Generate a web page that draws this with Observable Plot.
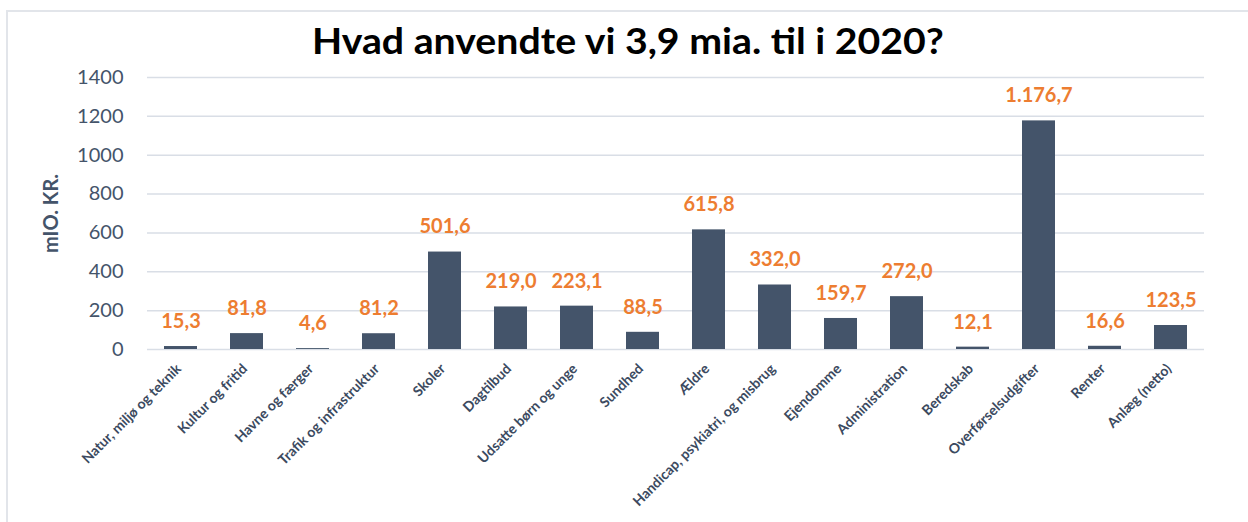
<!DOCTYPE html>
<html><head><meta charset="utf-8">
<script src="https://cdn.jsdelivr.net/npm/d3@7"></script>
<script src="https://cdn.jsdelivr.net/npm/@observablehq/plot@0.6"></script>
<style>
body{margin:0;background:#fff;width:1248px;height:522px;overflow:hidden;position:relative;font-family:Lato,sans-serif}
#frame{position:absolute;left:6px;top:10px;width:1300px;height:600px;border-left:2px solid #e2e5ea;border-top:2px solid #e2e5ea}
#titlebox{position:absolute;left:0;width:1256px;top:22px;text-align:center}
#title{display:inline-block;font-weight:700;font-size:36px;line-height:36px;color:#000;transform-origin:50% 50%}
#chart{position:absolute;left:0;top:60px}
</style></head><body>
<div id="frame"></div>
<div id="titlebox"><span id="title"></span></div>
<div id="chart"></div>
<script>
const title = "Hvad anvendte vi 3,9 mia. til i 2020?";
const yLabel = "mIO. KR.";
const categories = [
  "Natur, miljø og teknik", "Kultur og fritid", "Havne og færger", "Trafik og infrastruktur",
  "Skoler", "Dagtilbud", "Udsatte børn og unge", "Sundhed", "Ældre",
  "Handicap, psykiatri, og misbrug", "Ejendomme", "Administration", "Beredskab",
  "Overførselsudgifter", "Renter", "Anlæg (netto)"
];
const values = [15.3, 81.8, 4.6, 81.2, 501.6, 219.0, 223.1, 88.5, 615.8, 332.0, 159.7, 272.0, 12.1, 1176.7, 16.6, 123.5];
const yTicks = [0, 200, 400, 600, 800, 1000, 1200, 1400];

const t = document.getElementById("title");
t.textContent = title;
const w = t.getBoundingClientRect().width;
t.style.transform = `scaleX(${632 / w})`;

const data = categories.map((c, i) => ({category: c, value: values[i]}));
const fmt = d3.formatLocale({decimal: ",", thousands: ".", grouping: [3], currency: ["", ""]}).format(",.1f");

const chart = Plot.plot({
  width: 1248, height: 462,
  marginTop: 17, marginBottom: 173, marginLeft: 147, marginRight: 44,
  style: {fontFamily: "Lato, sans-serif", background: "transparent"},
  x: {domain: categories, paddingInner: 0.5, paddingOuter: 0.25},
  y: {domain: [0, 1400]},
  marks: [
    Plot.gridY(yTicks, {stroke: "#d9dee6", strokeOpacity: 1, strokeWidth: 1.5}),
    Plot.axisY(yTicks, {tickSize: 0, tickPadding: 24, tickFormat: d => String(d), fontSize: 20, color: "#44546a", label: null}),
    Plot.axisX({tickRotate: -45, tickSize: 0, tickPadding: 17, dx: -2, fontSize: 14, fontWeight: "bold", color: "#3b4a60", label: null}),
    Plot.barY(data, {x: "category", y: "value", fill: "#44546a"}),
    Plot.text(data, {x: "category", y: "value", text: d => fmt(d.value), dy: -25, fill: "#ed7d31", fontSize: 20, fontWeight: "bold"}),
    Plot.text([yLabel], {frameAnchor: "left", dx: -96, rotate: -90, textAnchor: "middle", fontSize: 20, fontWeight: "bold", fill: "#44546a"})
  ]
});
document.getElementById("chart").appendChild(chart);
</script>
</body></html>
